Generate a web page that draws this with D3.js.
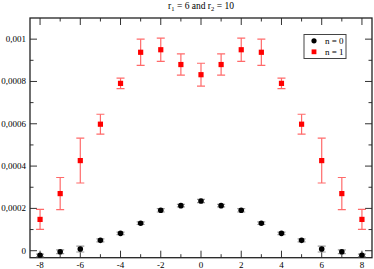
<!DOCTYPE html>
<html>
<head>
<meta charset="utf-8">
<script src="https://cdn.jsdelivr.net/npm/d3@7"></script>
<style>
  body { margin: 0; background: #fff; }
  text { font-family: "Liberation Serif", "DejaVu Serif", serif; }
</style>
</head>
<body>
<div id="chart"></div>
<script>
// values
var xs = [-8, -7, -6, -5, -4, -3, -2, -1, 0, 1, 2, 3, 4, 5, 6, 7, 8];
var n0 = [-0.000022, -0.000005, 0.000008, 0.000049, 0.000082, 0.00013, 0.000191, 0.000213, 0.000235,
          0.000213, 0.000191, 0.00013, 0.000082, 0.000049, 0.000008, -0.000005, -0.000022];
var n0Err = [0.000006, 0.000009, 0.000014, 0.000007, 0.000006, 0.000006, 0.000008, 0.000006, 0.000008,
             0.000006, 0.000008, 0.000006, 0.000006, 0.000007, 0.000014, 0.000009, 0.000006];
var n1 = [0.000148, 0.00027, 0.000426, 0.000598, 0.000791, 0.000938, 0.00095, 0.00088, 0.000832,
          0.00088, 0.00095, 0.000938, 0.000791, 0.000598, 0.000426, 0.00027, 0.000148];
var n1Err = [0.000047, 0.000076, 0.000106, 0.000047, 0.000025, 0.000062, 0.000055, 0.00005, 0.000054,
             0.00005, 0.000055, 0.000062, 0.000025, 0.000047, 0.000106, 0.000076, 0.000047];
var xTicks = [-8, -6, -4, -2, 0, 2, 4, 6, 8];
var yTicks = [0, 0.0002, 0.0004, 0.0006, 0.0008, 0.001];
var yLabels = ["0", "0,0002", "0,0004", "0,0006", "0,0008", "0,001"];
var seriesNames = ["n = 0", "n = 1"];

var W = 374, H = 269;
var svg = d3.select("#chart").append("svg").attr("width", W).attr("height", H);

var pLeft = 30, pRight = 372, pTop = 18, pBottom = 257.7;
var x = d3.scaleLinear().domain([-8.5, 8.5]).range([pLeft, pRight]);
var y = d3.scaleLinear().domain([-0.000033, 0.0011]).range([pBottom, pTop]);

svg.append("clipPath").attr("id", "clip")
  .append("rect").attr("x", pLeft).attr("y", pTop).attr("width", pRight - pLeft).attr("height", pBottom - pTop);

// title
var title = svg.append("text")
  .attr("x", (pLeft + pRight) / 2).attr("y", 9)
  .attr("text-anchor", "middle")
  .style("font-size", "9.5px");
title.append("tspan").text("r");
title.append("tspan").attr("dy", 2).style("font-size", "6.5px").text("1");
title.append("tspan").attr("dy", -2).text(" = 6 and r");
title.append("tspan").attr("dy", 2).style("font-size", "6.5px").text("2");
title.append("tspan").attr("dy", -2).text(" = 10");

// inward ticks on all four sides
var xMinor = d3.range(-7, 8, 2);
var yMinor = [0.0001, 0.0003, 0.0005, 0.0007, 0.0009];
var tickColor = "#333";

function xTickMarks(vals, len) {
  svg.append("g").selectAll("line").data(vals).enter().append("line")
    .attr("x1", d => x(d)).attr("x2", d => x(d))
    .attr("y1", pBottom).attr("y2", pBottom - len)
    .attr("stroke", tickColor).attr("stroke-width", 1);
  svg.append("g").selectAll("line").data(vals).enter().append("line")
    .attr("x1", d => x(d)).attr("x2", d => x(d))
    .attr("y1", pTop).attr("y2", pTop + len)
    .attr("stroke", tickColor).attr("stroke-width", 1);
}
function yTickMarks(vals, len) {
  svg.append("g").selectAll("line").data(vals).enter().append("line")
    .attr("y1", d => y(d)).attr("y2", d => y(d))
    .attr("x1", pLeft).attr("x2", pLeft + len)
    .attr("stroke", tickColor).attr("stroke-width", 1);
  svg.append("g").selectAll("line").data(vals).enter().append("line")
    .attr("y1", d => y(d)).attr("y2", d => y(d))
    .attr("x1", pRight).attr("x2", pRight - len)
    .attr("stroke", tickColor).attr("stroke-width", 1);
}
xTickMarks(xTicks, 7);
xTickMarks(xMinor, 3.5);
yTickMarks(yTicks, 7);
yTickMarks(yMinor, 3.5);

// frame
svg.append("rect")
  .attr("x", pLeft).attr("y", pTop)
  .attr("width", pRight - pLeft).attr("height", pBottom - pTop)
  .attr("fill", "none").attr("stroke", "#222").attr("stroke-width", 1.3);

// tick labels
svg.append("g").selectAll("text").data(xTicks).enter().append("text")
  .attr("x", d => x(d)).attr("y", 267.5)
  .attr("text-anchor", "middle")
  .style("font-size", "9px")
  .text(d => d);
svg.append("g").selectAll("text").data(yTicks).enter().append("text")
  .attr("x", 26).attr("y", d => y(d) + 3)
  .attr("text-anchor", "end")
  .style("font-size", "9px")
  .text((d, i) => yLabels[i]);

var plot = svg.append("g").attr("clip-path", "url(#clip)");

function errorBars(vals, errs, color, cap) {
  var g = plot.append("g").attr("stroke", color).attr("stroke-width", 1.2);
  xs.forEach(function(xv, i) {
    var lo = y(vals[i] - errs[i]), hi = y(vals[i] + errs[i]), cx = x(xv);
    g.append("line").attr("x1", cx).attr("x2", cx).attr("y1", lo).attr("y2", hi);
    g.append("line").attr("x1", cx - cap).attr("x2", cx + cap).attr("y1", lo).attr("y2", lo);
    g.append("line").attr("x1", cx - cap).attr("x2", cx + cap).attr("y1", hi).attr("y2", hi);
  });
}

errorBars(n1, n1Err, "#ff6a6a", 4);
errorBars(n0, n0Err, "#999", 4);

plot.append("g").selectAll("rect").data(xs).enter().append("rect")
  .attr("x", d => x(d) - 2.6).attr("y", (d, i) => y(n1[i]) - 2.6)
  .attr("width", 5.2).attr("height", 5.2)
  .attr("fill", "#ff0000");

plot.append("g").selectAll("circle").data(xs).enter().append("circle")
  .attr("cx", d => x(d)).attr("cy", (d, i) => y(n0[i]))
  .attr("r", 2.8)
  .attr("fill", "#000");

// legend
var lg = svg.append("g");
lg.append("rect").attr("x", 304).attr("y", 34.5).attr("width", 42).attr("height", 24)
  .attr("fill", "#fff").attr("stroke", "#444").attr("stroke-width", 1);
lg.append("circle").attr("cx", 314).attr("cy", 40.8).attr("r", 2.6).attr("fill", "#000");
lg.append("rect").attr("x", 311.6).attr("y", 49.4).attr("width", 4.8).attr("height", 4.8).attr("fill", "#ff0000");
lg.selectAll("text.lab").data(seriesNames).enter().append("text")
  .attr("x", 325).attr("y", (d, i) => 44 + i * 11)
  .style("font-size", "9px")
  .text(d => d);
</script>
</body>
</html>
